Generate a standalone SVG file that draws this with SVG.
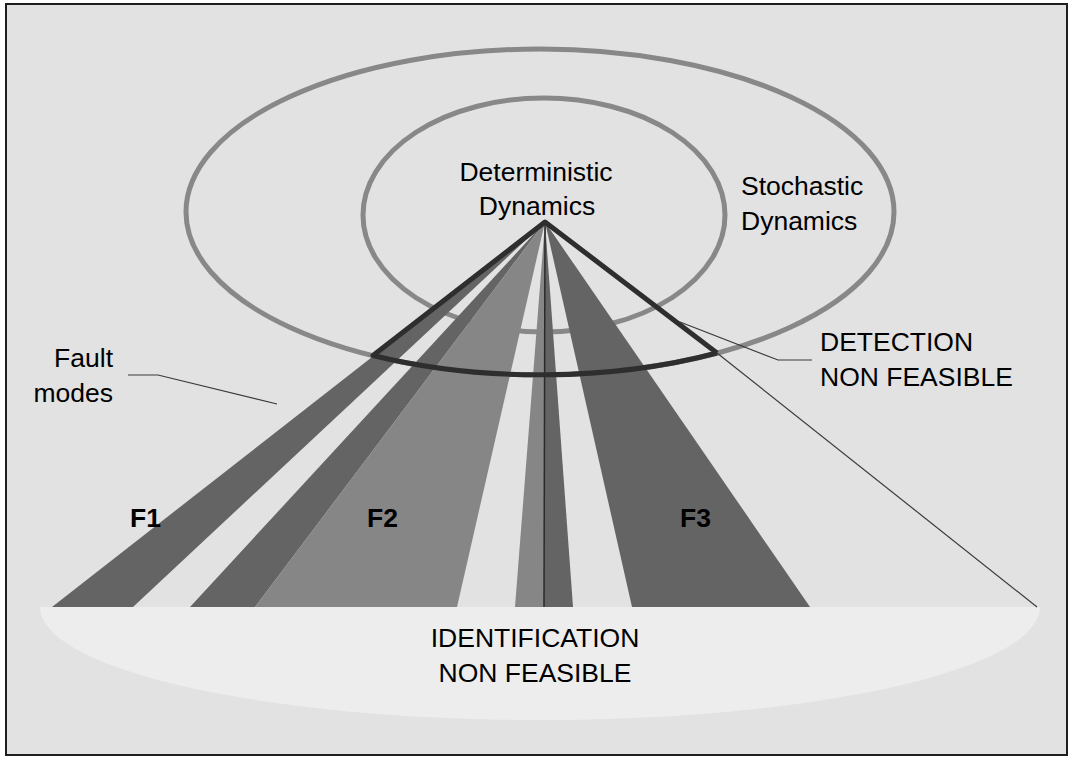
<svg xmlns="http://www.w3.org/2000/svg" width="1070" height="759" viewBox="0 0 1070 759">
  <style>
    .lbl { font-family: "Liberation Sans", Arial, Helvetica, sans-serif; font-size: 26.5px; fill: #000; }
    .bold { font-weight: bold; }
    .ring { fill: none; stroke: #888888; stroke-width: 5; }
    .dark { fill: #646464; }
    .mid { fill: #868686; }
    .edge { fill: none; stroke: #2e2e2e; stroke-width: 5; stroke-linejoin: round; }
    .lead { fill: none; stroke: #3a3a3a; stroke-width: 1.2; }
  </style>

  <!-- page and frame -->
  <rect x="0" y="0" width="1070" height="759" fill="#ffffff"/>
  <rect x="6" y="4" width="1061" height="751" fill="#e2e2e2" stroke="#1e1e1e" stroke-width="2"/>

  <!-- region below the fault fan -->
  <g id="identification-region">
    <path d="M 40 607 A 500 113 0 0 0 1040 607 Z" fill="#ededed"/>
  </g>

  <!-- dynamics rings -->
  <g id="stochastic-ring">
    <ellipse class="ring" cx="540" cy="212" rx="354" ry="163"/>
  </g>
  <g id="deterministic-ring">
    <ellipse class="ring" cx="544" cy="215" rx="181" ry="117"/>
  </g>

  <!-- fault mode wedges from the common apex -->
  <g id="fault-F1">
    <polygon class="dark" points="545,222 52,607 133,607"/>
  </g>
  <g id="fault-F2">
    <polygon class="dark" points="545,222 190,607 255,607"/>
    <polygon class="mid" points="545,222 255,607 457,607"/>
  </g>
  <g id="fault-centre">
    <polygon class="mid" points="545,222 515,607 544,607"/>
    <polygon class="dark" points="545,222 544,607 573,607"/>
  </g>
  <g id="fault-F3">
    <polygon class="dark" points="545,222 632,607 810,607"/>
  </g>

  <!-- connectors: sector outline, axis and leaders -->
  <g id="connectors">
    <line x1="545" y1="222" x2="544" y2="607" stroke="#2a2a2a" stroke-width="1.5"/>
    <path class="edge" d="M 717 353 L 545 222 L 373 355.5 A 354 163 0 0 0 717 353"/>
    <line class="lead" x1="717" y1="353" x2="1037" y2="607"/>
    <polyline class="lead" points="680,322 778,360 812,360"/>
    <polyline class="lead" points="128,375 158,375 277,404"/>
  </g>

  <!-- labels -->
  <g id="label-deterministic">
    <text class="lbl" x="536" y="181" text-anchor="middle">Deterministic</text>
    <text class="lbl" x="537" y="215" text-anchor="middle">Dynamics</text>
  </g>
  <g id="label-stochastic">
    <text class="lbl" x="741" y="195">Stochastic</text>
    <text class="lbl" x="741" y="230">Dynamics</text>
  </g>
  <g id="label-fault-modes">
    <text class="lbl" x="113" y="367" text-anchor="end">Fault</text>
    <text class="lbl" x="113" y="402" text-anchor="end">modes</text>
  </g>
  <g id="label-detection">
    <text class="lbl" x="820" y="351">DETECTION</text>
    <text class="lbl" x="820" y="386">NON FEASIBLE</text>
  </g>
  <g id="label-identification">
    <text class="lbl" x="535" y="647" text-anchor="middle">IDENTIFICATION</text>
    <text class="lbl" x="535" y="682" text-anchor="middle">NON FEASIBLE</text>
  </g>
  <g id="label-F">
    <text class="lbl bold" x="130" y="527">F1</text>
    <text class="lbl bold" x="367" y="527">F2</text>
    <text class="lbl bold" x="680" y="527">F3</text>
  </g>
</svg>
